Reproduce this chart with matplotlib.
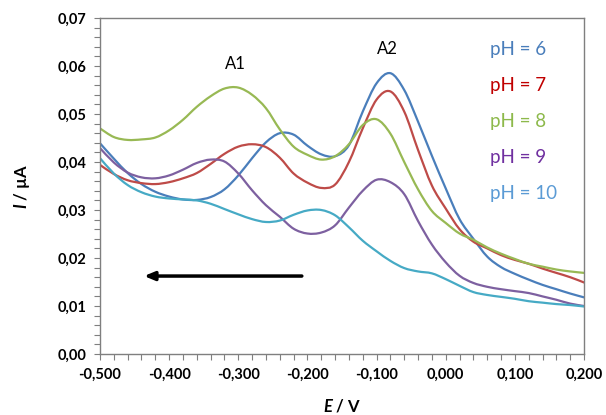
import matplotlib

matplotlib.use("Agg")
import matplotlib.pyplot as plt
from matplotlib.path import Path
from matplotlib.patches import PathPatch
from matplotlib.ticker import MultipleLocator, FuncFormatter

plt.rcParams["font.family"] = ["Lato", "DejaVu Sans"]
plt.rcParams["mathtext.fontset"] = "custom"
plt.rcParams["mathtext.bfit"] = "Lato:italic:bold"
plt.rcParams["mathtext.it"] = "Lato:italic"

# potential grid (V), step 0.02
E = [-0.50, -0.48, -0.46, -0.44, -0.42, -0.40, -0.38, -0.36, -0.34, -0.32,
     -0.30, -0.28, -0.26, -0.24, -0.22, -0.20, -0.18, -0.16, -0.14, -0.12,
     -0.10, -0.08, -0.06, -0.04, -0.02, 0.00, 0.02, 0.04, 0.06, 0.08,
     0.10, 0.12, 0.14, 0.16, 0.18, 0.20]

# current (uA) per pH
I_ph6 = [0.0439, 0.0407, 0.0377, 0.0354, 0.0338, 0.0328, 0.0322, 0.0321, 0.0327, 0.0343,
         0.0372, 0.0408, 0.0441, 0.0460, 0.0457, 0.0434, 0.0416, 0.0412, 0.0435, 0.0505,
         0.0564, 0.0585, 0.0550, 0.0484, 0.0413, 0.0345, 0.0281, 0.0240, 0.0203, 0.0181,
         0.0167, 0.0155, 0.0144, 0.0135, 0.0126, 0.0118]
I_ph7 = [0.0394, 0.0375, 0.0362, 0.0356, 0.0354, 0.0358, 0.0366, 0.0377, 0.0396, 0.0417,
         0.0432, 0.0437, 0.0431, 0.0409, 0.0376, 0.0357, 0.0346, 0.0353, 0.0400, 0.0470,
         0.0530, 0.0547, 0.0505, 0.0425, 0.0351, 0.0303, 0.0260, 0.0234, 0.0220, 0.0206,
         0.0196, 0.0188, 0.0178, 0.0169, 0.0160, 0.0149]
I_ph8 = [0.0470, 0.0452, 0.0446, 0.0447, 0.0451, 0.0466, 0.0488, 0.0515, 0.0537, 0.0553,
         0.0555, 0.0540, 0.0512, 0.0468, 0.0432, 0.0415, 0.0405, 0.0412, 0.0437, 0.0477,
         0.0489, 0.0459, 0.0400, 0.0343, 0.0298, 0.0273, 0.0251, 0.0238, 0.0222, 0.0209,
         0.0198, 0.0188, 0.0182, 0.0176, 0.0172, 0.0169]
I_ph9 = [0.0429, 0.0399, 0.0378, 0.0368, 0.0366, 0.0372, 0.0384, 0.0398, 0.0405, 0.0401,
         0.0376, 0.0341, 0.0310, 0.0286, 0.0261, 0.0251, 0.0253, 0.0268, 0.0305, 0.0340,
         0.0363, 0.0358, 0.0333, 0.0277, 0.0228, 0.0191, 0.0163, 0.0148, 0.0140, 0.0135,
         0.0131, 0.0127, 0.0120, 0.0113, 0.0105, 0.0100]
I_ph10 = [0.0408, 0.0376, 0.0352, 0.0337, 0.0328, 0.0324, 0.0322, 0.0320, 0.0313, 0.0302,
          0.0291, 0.0281, 0.0275, 0.0278, 0.0290, 0.0299, 0.0300, 0.0289, 0.0264, 0.0236,
          0.0214, 0.0194, 0.0179, 0.0172, 0.0168, 0.0156, 0.0142, 0.0129, 0.0123, 0.0119,
          0.0115, 0.0110, 0.0107, 0.0104, 0.0102, 0.0099]

LABELS = ["pH = 6", "pH = 7", "pH = 8", "pH = 9", "pH = 10"]
SERIES = [I_ph6, I_ph7, I_ph8, I_ph9, I_ph10]
LINE_COLORS = ["#4A7EBB", "#BE4B48", "#98B954", "#7D60A0", "#46AAC5"]
TEXT_COLORS = ["#4A7EBB", "#C00000", "#8DB94B", "#7030A0", "#5B9BD5"]


def smooth_path(x, y):
    # Catmull-Rom through the points, written as cubic Bezier segments
    verts = [(x[0], y[0])]
    codes = [Path.MOVETO]
    n = len(x)
    for i in range(n - 1):
        a = max(i - 1, 0)
        b = min(i + 2, n - 1)
        c1 = (x[i] + (x[i + 1] - x[a]) / 6, y[i] + (y[i + 1] - y[a]) / 6)
        c2 = (x[i + 1] - (x[b] - x[i]) / 6, y[i + 1] - (y[b] - y[i]) / 6)
        verts += [c1, c2, (x[i + 1], y[i + 1])]
        codes += [Path.CURVE4] * 3
    return Path(verts, codes)


def comma(fmt):
    def f(v, pos):
        if abs(v) < 1e-9:
            v = 0.0
        return fmt.format(v).replace(".", ",")
    return FuncFormatter(f)


fig = plt.figure(figsize=(6.06, 4.15), dpi=100)
ax = fig.add_axes([100 / 606, 1 - 354 / 415, 484 / 606, 336 / 415])

for ys, c in zip(SERIES, LINE_COLORS):
    ax.add_patch(PathPatch(smooth_path(E, ys), facecolor="none", edgecolor=c,
                           lw=1.6, capstyle="round", joinstyle="round"))

ax.set_xlim(-0.5, 0.2)
ax.set_ylim(0, 0.07)
ax.xaxis.set_major_locator(MultipleLocator(0.1))
ax.xaxis.set_minor_locator(MultipleLocator(0.02))
ax.yaxis.set_major_locator(MultipleLocator(0.01))
ax.yaxis.set_minor_locator(MultipleLocator(0.002))
ax.xaxis.set_major_formatter(comma("{:.3f}"))
ax.yaxis.set_major_formatter(comma("{:.2f}"))

for s in ax.spines.values():
    s.set_color("#7f7f7f")
    s.set_linewidth(1.0)
ax.tick_params(which="both", direction="out", length=4, width=0.8, color="#7f7f7f")
ax.tick_params(axis="both", which="major", labelsize=10.5, pad=6)
for lab in ax.get_xticklabels() + ax.get_yticklabels():
    lab.set_fontweight("bold")

ax.set_xlabel(r"$\mathbfit{E}$ / V", fontsize=12, fontweight="bold")
ax.set_ylabel(r"$\mathbfit{I}$ / µA", fontsize=12, fontweight="bold")
ax.xaxis.set_label_coords(0.5, -0.13)
ax.yaxis.set_label_coords(-0.14, 0.5)

# peak labels
ax.text(0.279, 0.863, "A1", transform=ax.transAxes, ha="center", va="center",
        fontsize=12)
ax.text(0.593, 0.909, "A2", transform=ax.transAxes, ha="center", va="center",
        fontsize=12)

# series labels
for k, (lab, c) in enumerate(zip(LABELS, TEXT_COLORS)):
    ax.text(0.806, 0.905 - k * 0.1065, lab, transform=ax.transAxes,
            ha="left", va="center", fontsize=13.5, color=c)

# scan direction
ax.annotate("", xy=(0.091, 0.232), xytext=(0.417, 0.232),
            xycoords="axes fraction", textcoords="axes fraction",
            arrowprops=dict(arrowstyle="-|>,head_length=0.6,head_width=0.25",
                            color="black", lw=2.5, shrinkA=0, shrinkB=0))

fig.savefig("out.png", dpi=100, facecolor="white")
